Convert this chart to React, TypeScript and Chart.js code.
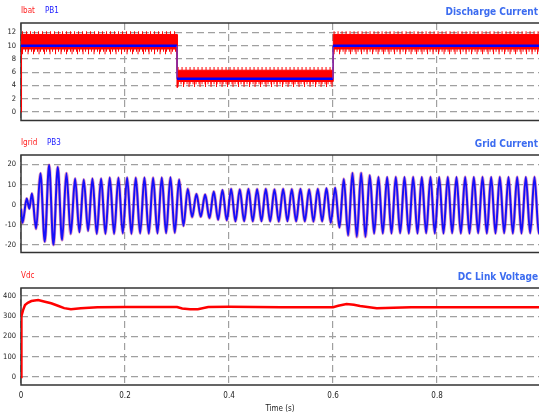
import React, { useEffect, useRef } from 'react';
import { Chart, registerables } from 'chart.js';

Chart.register(...registerables);

const FONT = "'Liberation Sans Narrow', 'DejaVu Sans Condensed', 'Liberation Sans', Arial, sans-serif";

// ---- shared x axis ----
const xTicks = [0, 0.2, 0.4, 0.6, 0.8];
const xTickLabels = ['0', '0.2', '0.4', '0.6', '0.8'];
const X_MAX = 0.996;

// ---- panel 1 : Discharge current ----
const ibatTicks = [0, 2, 4, 6, 8, 10, 12];
const ibatTimes = [0, 0.001, 0.3, 0.3005, 0.302, 0.6, 0.6005, 0.996];
const ibatHigh = [0, 11.7, 11.7, 6.3, 6.3, 6.3, 11.7, 11.7];
const ibatLow = [0, 9.5, 9.5, 3.7, 4.6, 4.6, 9.5, 9.5];
const spikeTimes = [0.002, 0.3, 0.3, 0.301, 0.6, 0.6, 0.601, 0.996];
const spikeTop = [11.95, 11.95, null, 6.55, 6.55, null, 11.95, 11.95];
const spikeLowNear = [9.3, 9.3, null, 4.4, 4.4, null, 9.3, 9.3];
const spikeLowFar = [9.1, 9.1, null, 4.15, 4.15, null, 9.1, 9.1];
const pb1Times = [0, 0.3, 0.3, 0.6, 0.6, 0.996];
const pb1Values = [10, 10, 5, 5, 10, 10];

// ---- panel 2 : Grid current (extrema read per half cycle) ----
const gridTicks = [-20, -10, 0, 10, 20];
const gridEarlyTimes = [0, 0.003, 0.011, 0.016, 0.021];
const gridEarly = [-2, -9, 3, -2, 5.5];
const gridStart = 0.029;
const gridHalfPeriod = 1 / 120;
const gridExtrema = [
  -12, 15.6, -18.4, 19.7, -20, 18.7, -17.6, 15.6, -14.5, 13,
  -13.7, 12.5, -13, 13, -14.5, 13, -14.5, 13.5, -14.5, 13.4,
  -14.3, 13.5, -14.5, 13.4, -14.3, 13.5, -14.4, 13.4, -14.3, 13.5,
  -14.2, 13.6, -14, 12.5, -10.6, 7.8, -6.2, 5.3, -6, 5,
  -6.7, 6.5, -7.5, 7.3, -7.8, 7.8, -8.3, 7.6, -8.2, 7.8,
  -8.3, 7.7, -8.2, 7.8, -8.3, 7.6, -8.4, 7.8, -8.2, 7.7,
  -8.3, 7.8, -8.3, 7.6, -8.4, 7.8, -8.3, 8.1, -9, 8.4,
  -11.4, 12.8, -15.3, 15.7, -16, 15.7, -16, 14.6, -14.4, 13.8,
  -14.3, 13.7, -14.3, 13.8, -14.2, 13.7, -14.3, 13.8, -14.3, 13.7,
  -14.2, 13.8, -14.3, 13.7, -14.3, 13.8, -14.2, 13.7, -14.3, 13.8,
  -14.3, 13.7, -14.2, 13.8, -14.3, 13.7, -14.3, 13.8, -14.2, 13.7,
  -14.3, 13.8, -14.3, 13.7, -14.2, 13.8, -14.3, 13.7,
];

// ---- panel 3 : DC link voltage ----
const vdcTicks = [0, 100, 200, 300, 400];
const vdcTimes = [0, 0.0008, 0.004, 0.0077, 0.013, 0.02, 0.033, 0.046, 0.058, 0.071, 0.083, 0.096, 0.115, 0.147, 0.2, 0.3, 0.31, 0.325, 0.34, 0.36, 0.4, 0.5, 0.6, 0.61, 0.626, 0.64, 0.652, 0.684, 0.716, 0.75, 0.996];
const vdcValues = [0, 300, 330, 355, 366, 375, 380, 372, 364, 352, 340, 335, 339, 344, 346, 346, 338, 334, 335, 346, 347, 345, 345, 352, 360, 357, 351, 339, 342, 345, 345];

const pts = (xs: number[], ys: (number | null)[]) => xs.map((x, i) => ({ x, y: ys[i] }));

const framePlugin = {
  id: 'frame',
  beforeDatasetsDraw(chart: any) {
    const { ctx, chartArea: a } = chart;
    ctx.save();
    ctx.strokeStyle = '#333';
    ctx.lineWidth = 1.5;
    ctx.beginPath();
    ctx.moveTo(a.right + 3, a.top);
    ctx.lineTo(a.left, a.top);
    ctx.lineTo(a.left, a.bottom);
    ctx.lineTo(a.right + 3, a.bottom);
    ctx.stroke();
    ctx.restore();
  },
  afterDraw(chart: any, _args: any, opts: any) {
    const { ctx, chartArea: a } = chart;
    ctx.save();
    ctx.textBaseline = 'middle';
    ctx.textAlign = 'left';
    ctx.font = `8px ${FONT}`;
    (opts.labels || []).forEach((l: any) => {
      ctx.fillStyle = l.color;
      ctx.fillText(l.text, l.x, a.top - 12);
    });
    ctx.textAlign = 'right';
    ctx.font = `bold 10px ${FONT}`;
    ctx.fillStyle = '#3c6cf0';
    ctx.fillText(opts.title, 538, a.top - 10.5);
    ctx.restore();
  },
};

function makeChart(canvas: HTMLCanvasElement, p: any) {
  return new Chart(canvas, {
    type: 'line',
    data: { datasets: p.datasets },
    plugins: [framePlugin],
    options: {
      responsive: false,
      animation: false,
      events: [],
      layout: { padding: { top: p.padTop, bottom: p.padBottom, left: 0, right: 0 } },
      plugins: {
        legend: { display: false },
        tooltip: { enabled: false },
        frame: { labels: p.labels, title: p.title },
      } as any,
      elements: { point: { radius: 0 } },
      scales: {
        x: {
          type: 'linear',
          min: 0,
          max: X_MAX,
          afterBuildTicks: (s: any) => { s.ticks = xTicks.map((v) => ({ value: v })); },
          afterFit: (s: any) => { s.height = p.showX ? 32 : 0; },
          grid: { color: '#a0a0a0', lineWidth: 1.2, drawTicks: false },
          border: { display: false, dash: [7, 4] },
          ticks: {
            display: p.showX,
            padding: 6,
            autoSkip: false,
            maxRotation: 0,
            color: '#222',
            font: { size: 8, family: FONT },
            callback: (_v: any, i: number) => xTickLabels[i],
          },
          title: {
            display: p.showX,
            text: 'Time (s)',
            color: '#222',
            font: { size: 8, family: FONT },
            padding: { top: 2, bottom: 3 },
          },
        },
        y: {
          type: 'linear',
          min: p.yMin,
          max: p.yMax,
          afterBuildTicks: (s: any) => { s.ticks = p.yTicks.map((v: number) => ({ value: v })); },
          afterFit: (s: any) => { s.width = 21; },
          grid: { color: '#a0a0a0', lineWidth: 1.2, drawTicks: false },
          border: { display: false, dash: [7, 4] },
          ticks: {
            padding: 5,
            color: '#222',
            font: { size: 7.5, family: FONT },
            callback: (v: any) => String(v),
          },
        },
      },
    } as any,
  });
}

export default function App() {
  const c1 = useRef<HTMLCanvasElement>(null);
  const c2 = useRef<HTMLCanvasElement>(null);
  const c3 = useRef<HTMLCanvasElement>(null);

  useEffect(() => {
    const red = '#ff0000';
    const blue = '#0000ff';
    const ch1 = makeChart(c1.current!, {
      padTop: 23, padBottom: 4, showX: false,
      yMin: -1.29, yMax: 13.43, yTicks: ibatTicks,
      title: 'Discharge Current',
      labels: [{ text: 'Ibat', color: '#ff2020', x: 21 }, { text: 'PB1', color: '#2020ff', x: 45 }],
      datasets: [
        {
          data: pts(pb1Times, pb1Values), borderColor: blue, borderWidth: 2.5, pointRadius: 0,
          segment: {
            borderColor: (ctx: any) => (ctx.p0.parsed.x === ctx.p1.parsed.x ? '#7030c0' : blue),
            borderWidth: (ctx: any) => (ctx.p0.parsed.x === ctx.p1.parsed.x ? 1.5 : 2.5),
          },
        },
        { data: pts(ibatTimes, ibatHigh), borderColor: red, backgroundColor: red, borderWidth: 1, fill: '+1', pointRadius: 0 },
        { data: pts(ibatTimes, ibatLow), borderColor: red, borderWidth: 1, fill: false, pointRadius: 0 },
        { data: pts(spikeTimes, spikeTop), borderColor: red, borderWidth: 3, borderDash: [1, 3], borderCapStyle: 'butt', spanGaps: false, pointRadius: 0 },
        { data: pts(spikeTimes, spikeLowNear), borderColor: red, borderWidth: 3, borderDash: [1, 2], borderCapStyle: 'butt', spanGaps: false, pointRadius: 0 },
        { data: pts(spikeTimes, spikeLowFar), borderColor: red, borderWidth: 5, borderDash: [1, 4.5], borderCapStyle: 'butt', spanGaps: false, pointRadius: 0 },
      ],
    });

    const gridPoints = [
      ...pts(gridEarlyTimes, gridEarly),
      ...gridExtrema.map((v, k) => ({ x: gridStart + k * gridHalfPeriod, y: v })),
    ];
    const ch2 = makeChart(c2.current!, {
      padTop: 25, padBottom: 4, showX: false,
      yMin: -23.8, yMax: 24.7, yTicks: gridTicks,
      title: 'Grid Current',
      labels: [{ text: 'Igrid', color: '#ff2020', x: 21 }, { text: 'PB3', color: '#2020ff', x: 47 }],
      datasets: [
        { data: gridPoints, borderColor: 'rgba(0,0,255,0.9)', borderWidth: 2, cubicInterpolationMode: 'monotone', pointRadius: 0 },
        { data: gridPoints, borderColor: 'rgba(200,40,120,0.45)', borderWidth: 3.2, cubicInterpolationMode: 'monotone', pointRadius: 0 },
      ],
    });

    const ch3 = makeChart(c3.current!, {
      padTop: 26, padBottom: 0, showX: true,
      yMin: -39.5, yMax: 439.5, yTicks: vdcTicks,
      title: 'DC Link Voltage',
      labels: [{ text: 'Vdc', color: '#ff2020', x: 21 }],
      datasets: [
        { data: pts(vdcTimes, vdcValues), borderColor: red, borderWidth: 2.5, pointRadius: 0 },
      ],
    });

    return () => { ch1.destroy(); ch2.destroy(); ch3.destroy(); };
  }, []);

  const cs = (top: number, h: number): React.CSSProperties => ({ position: 'absolute', left: 0, top, width: 539, height: h });

  return (
    <div style={{ position: 'fixed', left: 0, top: 0, width: 539, height: 417, background: '#fff', overflow: 'hidden' }}>
      <canvas ref={c1} width={539} height={130} style={cs(0, 130)} />
      <canvas ref={c2} width={539} height={132} style={cs(130, 132)} />
      <canvas ref={c3} width={539} height={155} style={cs(262, 155)} />
    </div>
  );
}
